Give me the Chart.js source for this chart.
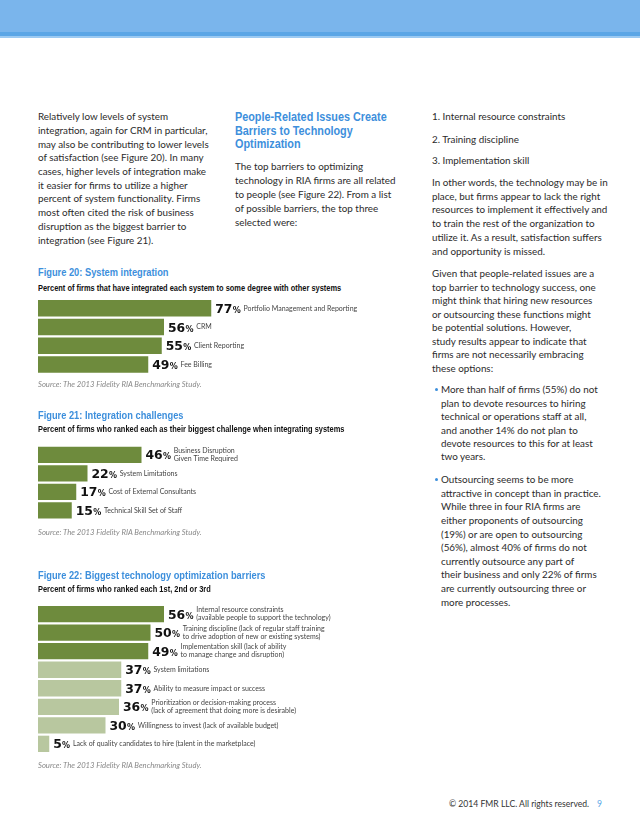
<!DOCTYPE html>
<html>
<head>
<meta charset="utf-8">
<script src="https://cdn.jsdelivr.net/npm/chart.js@4.4.1/dist/chart.umd.min.js"></script>
<style>
  html,body{margin:0;padding:0;background:#fff;}
  body{width:640px;height:828px;position:relative;overflow:hidden;font-family:Lato,"Open Sans",sans-serif;color:#2b2b2b;}
  .abs{position:absolute;white-space:pre;}
  .body{font-size:9.85px;}
  .cond{font-family:"Liberation Sans",Arial,sans-serif;font-weight:bold;transform-origin:left top;}
  .ftitle{font-size:11.2px;color:#3d8fdc;line-height:12px;transform:scaleX(0.83);}
  .fsub{font-size:8.4px;color:#111;line-height:10px;transform:scaleX(0.89);}
  .src{font-size:7.7px;color:#888;font-style:italic;line-height:10px;}
  .bullet::before{content:"";position:absolute;left:-6px;top:5.2px;width:3px;height:3px;border-radius:50%;background:#3d8fdc;}
  canvas{position:absolute;}
</style>
</head>
<body>
<div class="abs" style="left:0;top:0;width:640px;height:32px;background:#7ab5ec;"></div>
<div class="abs" style="left:0;top:32px;width:640px;height:4px;background:#5ba6e6;"></div>
<div class="abs" style="left:0;top:36px;width:640px;height:2px;background:#9ccaf2;"></div>

<div class="abs body" style="left:38px;top:110.2px;line-height:13.7px;">Relatively low levels of system
integration, again for CRM in particular,
may also be contributing to lower levels
of satisfaction (see Figure 20). In many
cases, higher levels of integration make
it easier for firms to utilize a higher
percent of system functionality. Firms
most often cited the risk of business
disruption as the biggest barrier to
integration (see Figure 21).</div>

<div class="abs cond" style="left:235px;top:111px;font-size:12.6px;line-height:13.5px;color:#3d8fdc;transform:scaleX(0.86);">People-Related Issues Create
Barriers to Technology
Optimization</div>

<div class="abs body" style="left:235px;top:158.5px;line-height:14px;">The top barriers to optimizing
technology in RIA firms are all related
to people (see Figure 22). From a list
of possible barriers, the top three
selected were:</div>

<div class="abs body" style="left:432px;top:109.9px;line-height:13.6px;">1. Internal resource constraints</div>
<div class="abs body" style="left:432px;top:132.5px;line-height:13.6px;">2. Training discipline</div>
<div class="abs body" style="left:432px;top:154.2px;line-height:13.6px;">3. Implementation skill</div>
<div class="abs body" style="left:432px;top:175.8px;line-height:13.8px;">In other words, the technology may be in
place, but firms appear to lack the right
resources to implement it effectively and
to train the rest of the organization to
utilize it. As a result, satisfaction suffers
and opportunity is missed.</div>
<div class="abs body" style="left:432px;top:267.2px;line-height:13.5px;">Given that people-related issues are a
top barrier to technology success, one
might think that hiring new resources
or outsourcing these functions might
be potential solutions. However,
study results appear to indicate that
firms are not necessarily embracing
these options:</div>
<div class="abs body bullet" style="left:441px;top:383.3px;line-height:13.4px;">More than half of firms (55%) do not
plan to devote resources to hiring
technical or operations staff at all,
and another 14% do not plan to
devote resources to this for at least
two years.</div>
<div class="abs body bullet" style="left:441px;top:473.2px;line-height:13.6px;">Outsourcing seems to be more
attractive in concept than in practice.
While three in four RIA firms are
either proponents of outsourcing
(19%) or are open to outsourcing
(56%), almost 40% of firms do not
currently outsource any part of
their business and only 22% of firms
are currently outsourcing three or
more processes.</div>

<div class="abs cond ftitle" style="left:38px;top:266.3px;">Figure 20: System integration</div>
<div class="abs cond fsub" style="left:38px;top:283.3px;">Percent of firms that have integrated each system to some degree with other systems</div>
<canvas id="c20" width="330" height="92" style="left:38px;top:290px;width:330px;height:92px;"></canvas>
<div class="abs src" style="left:38px;top:379px;">Source: The 2013 Fidelity RIA Benchmarking Study.</div>

<div class="abs cond ftitle" style="left:38px;top:409px;">Figure 21: Integration challenges</div>
<div class="abs cond fsub" style="left:38px;top:424.3px;">Percent of firms who ranked each as their biggest challenge when integrating systems</div>
<canvas id="c21" width="330" height="92" style="left:38px;top:437px;width:330px;height:92px;"></canvas>
<div class="abs src" style="left:38px;top:526.5px;">Source: The 2013 Fidelity RIA Benchmarking Study.</div>

<div class="abs cond ftitle" style="left:38px;top:569px;">Figure 22: Biggest technology optimization barriers</div>
<div class="abs cond fsub" style="left:38px;top:584px;">Percent of firms who ranked each 1st, 2nd or 3rd</div>
<canvas id="c22" width="330" height="166" style="left:38px;top:596px;width:330px;height:166px;"></canvas>
<div class="abs src" style="left:38px;top:760px;">Source: The 2013 Fidelity RIA Benchmarking Study.</div>

<div class="abs" style="left:449px;top:798px;font-size:8.6px;line-height:12px;color:#333;">© 2014 FMR LLC. All rights reserved.</div>
<div class="abs" style="left:597px;top:798px;font-size:8.6px;line-height:12px;color:#5ba6e6;">9</div>

<script>
// ---- Data ----
const fig20Categories = ["Portfolio Management and Reporting", "CRM", "Client Reporting", "Fee Billing"];
const fig20Values = [77, 56, 55, 49];

const fig21Categories = [["Business Disruption", "Given Time Required"], "System Limitations", "Cost of External Consultants", "Technical Skill Set of Staff"];
const fig21Values = [46, 22, 17, 15];

const fig22Categories = [
  ["Internal resource constraints", "(available people to support the technology)"],
  ["Training discipline (lack of regular staff training", "to drive adoption of new or existing systems)"],
  ["Implementation skill (lack of ability", "to manage change and disruption)"],
  "System limitations",
  "Ability to measure impact or success",
  ["Prioritization or decision-making process", "(lack of agreement that doing more is desirable)"],
  "Willingness to invest (lack of available budget)",
  "Lack of quality candidates to hire (talent in the marketplace)"
];
const fig22Values = [56, 50, 49, 37, 37, 36, 30, 5];
const fig22TopCount = 3;

// ---- Styles ----
const DARK = "#6e8b3d";
const LIGHT = "#b8c79f";

const valueLabels = {
  id: "valueLabels",
  afterDatasetsDraw(chart) {
    const ctx = chart.ctx;
    const meta = chart.getDatasetMeta(0);
    meta.data.forEach((bar, i) => {
      const v = chart.data.datasets[0].data[i];
      const x = bar.x + 4;
      const y = bar.y;
      ctx.save();
      ctx.textBaseline = "alphabetic";
      ctx.fillStyle = "#111";
      ctx.font = 'bold 12.4px "DejaVu Sans"';
      const num = String(v);
      ctx.fillText(num, x, y + 4.5);
      let w = ctx.measureText(num).width;
      ctx.font = 'bold 8px "DejaVu Sans"';
      ctx.fillText("%", x + w + 0.2, y + 4.5);
      w += ctx.measureText("%").width + 3;
      ctx.fillStyle = "#444";
      ctx.font = '7px Lato';
      ctx.textBaseline = "middle";
      const lab = chart.data.labels[i];
      const lines = Array.isArray(lab) ? lab : [lab];
      lines.forEach((ln, j) => {
        ctx.fillText(ln, x + w, y + (j - (lines.length - 1) / 2) * 8);
      });
      ctx.restore();
    });
  }
};

function makeChart(id, labels, values, colors, padTop, padBottom) {
  return new Chart(document.getElementById(id), {
    type: "bar",
    data: {
      labels: labels,
      datasets: [{
        data: values,
        backgroundColor: colors,
        borderWidth: 0,
        barPercentage: 0.88,
        categoryPercentage: 1
      }]
    },
    options: {
      indexAxis: "y",
      responsive: false,
      maintainAspectRatio: false,
      animation: false,
      layout: { padding: { left: 0, right: 105, top: padTop, bottom: padBottom } },
      scales: {
        x: { display: false, min: 0, max: 100 },
        y: { display: false }
      },
      plugins: { legend: { display: false }, tooltip: { enabled: false } }
    },
    plugins: [valueLabels]
  });
}

makeChart("c20", fig20Categories, fig20Values, fig20Values.map(() => DARK), 8.9, 8.1);
makeChart("c21", fig21Categories, fig21Values, fig21Values.map(() => DARK), 8.6, 9.4);
makeChart("c22", fig22Categories, fig22Values, fig22Values.map((_, i) => i < fig22TopCount ? DARK : LIGHT), 8.9, 8.9);
</script>
</body>
</html>
